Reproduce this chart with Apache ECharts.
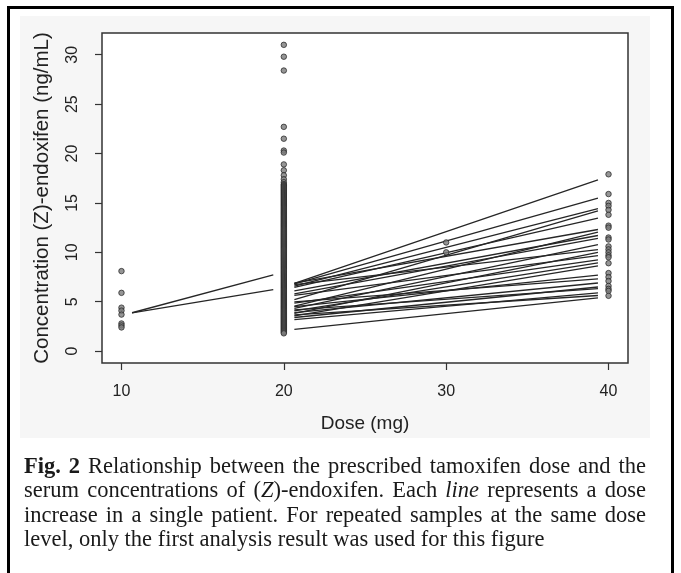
<!DOCTYPE html>
<html><head><meta charset="utf-8">
<script src="https://cdn.jsdelivr.net/npm/echarts@6/dist/echarts.min.js"></script>
<style>html,body{margin:0;padding:0;background:#fff}#c{width:681px;height:573px}</style>
</head><body><div id="c"></div>
<script>
// ---- data ----
const xTicks = [10, 20, 30, 40];
const yTicks = [0, 5, 10, 15, 20, 25, 30];
const xTitle = 'Dose (mg)';
const yTitle = 'Concentration (Z)-endoxifen (ng/mL)';

const dose10 = [8.1, 5.9, 4.4, 4.1, 3.7, 2.8, 2.6, 2.4];
const dose20 = [31.0, 29.8, 28.4, 22.7, 21.5, 20.3, 20.1, 18.9, 18.3, 17.8, 17.4, 17.1,
  16.9, 16.8, 16.7, 16.6, 16.5, 16.4, 16.3, 16.2, 16.1, 16.0, 15.9, 15.8, 15.7, 15.6, 15.5, 15.4,
  15.3, 15.2, 15.1, 15.0, 14.9, 14.8, 14.7, 14.6, 14.5, 14.4, 14.3, 14.2, 14.1, 14.0, 13.9, 13.8,
  13.7, 13.6, 13.5, 13.4, 13.3, 13.2, 13.1, 13.0, 12.9, 12.8, 12.7, 12.6, 12.5, 12.4, 12.3, 12.2,
  12.1, 12.0, 11.9, 11.8, 11.7, 11.6, 11.5, 11.4, 11.3, 11.2, 11.1, 11.0, 10.9, 10.8, 10.7, 10.6,
  10.5, 10.4, 10.3, 10.2, 10.1, 10.0, 9.9, 9.8, 9.7, 9.6, 9.5, 9.4, 9.3, 9.2, 9.1, 9.0, 8.9, 8.8,
  8.7, 8.6, 8.5, 8.4, 8.3, 8.2, 8.1, 8.0, 7.9, 7.8, 7.7, 7.6, 7.5, 7.4, 7.3, 7.2, 7.1, 7.0, 6.9,
  6.8, 6.7, 6.6, 6.5, 6.4, 6.3, 6.2, 6.1, 6.0, 5.9, 5.8, 5.7, 5.6, 5.5, 5.4, 5.3, 5.2, 5.1, 5.0,
  4.9, 4.8, 4.7, 4.6, 4.5, 4.4, 4.3, 4.2, 4.1, 4.0, 3.9, 3.8, 3.7, 3.6, 3.5, 3.4, 3.3, 3.2, 3.1,
  3.0, 2.9, 2.8, 2.7, 2.6, 2.5, 2.4, 2.3, 2.2, 2.1, 2.0, 1.9, 1.8];
const dose30 = [11.0, 10.0];
const dose40 = [17.9, 15.9, 15.0, 14.7, 14.3, 13.8, 12.7, 12.5, 11.5, 11.3, 10.6, 10.3, 10.0,
  9.7, 9.5, 8.9, 7.9, 7.5, 7.1, 6.6, 6.3, 6.1, 5.6];

// each patient's dose increase: start dose/conc -> end dose/conc
const patFromDose = [10, 10, 20, 20, 20, 20, 20, 20, 20, 20, 20, 20, 20, 20, 20, 20, 20, 20, 20, 20, 20, 20, 20, 20, 20, 20];
const patToDose   = [20, 20, 40, 40, 40, 40, 40, 40, 40, 40, 40, 40, 40, 40, 40, 40, 40, 40, 40, 40, 40, 40, 40, 40, 40, 40];
const patFromConc = [3.6, 3.7, 6.5, 6.5, 6.3, 4.9, 6.2, 6.7, 4.3, 5.9, 5.6, 4.1, 6.6, 3.6, 5.5, 4.7, 3.9, 3.4, 4.4, 4.9, 3.8, 3.3, 4.1, 3.1, 3.6, 2.1];
const patToConc   = [8.0, 6.4, 17.7, 15.8, 14.7, 14.5, 13.7, 12.5, 12.3, 11.9, 11.6, 11.0, 10.4, 10.2, 9.8, 9.4, 9.1, 8.8, 7.8, 7.4, 7.0, 6.6, 6.4, 6.0, 5.7, 5.5];

const captionLines = [
  [['Fig. 2', 'b'], ['Relationship between the prescribed tamoxifen dose and the', 'n']],
  [['serum concentrations of (', 'n'], ['Z', 'i'], [')-endoxifen. Each ', 'n'], ['line', 'i'], [' represents a dose', 'n']],
  [['increase in a single patient. For repeated samples at the same dose', 'n']],
  [['level, only the first analysis result was used for this figure', 'n']]
];

// ---- build ----
const chart = echarts.init(document.getElementById('c'), null, {renderer: 'canvas'});
const GAP = 0.65;
const lineSeries = patFromDose.map((d1, i) => {
  const d2 = patToDose[i], c1 = patFromConc[i], c2 = patToConc[i];
  const t0 = GAP / (d2 - d1), t1 = 1 - t0;
  return {
    type: 'line', silent: true, symbol: 'none', animation: false,
    lineStyle: {color: '#262626', width: 1.3},
    data: [[d1 + (d2 - d1) * t0, c1 + (c2 - c1) * t0], [d1 + (d2 - d1) * t1, c1 + (c2 - c1) * t1]]
  };
});
const pts = [];
[[10, dose10], [20, dose20], [30, dose30], [40, dose40]].forEach(([d, arr]) => arr.forEach(v => pts.push([d, v])));

// caption layout (justified)
const SERIF = '"Liberation Serif", "Times New Roman", serif';
const CFS = 22.5;
const cvs = document.createElement('canvas').getContext('2d');
function fontOf(s) { return (s === 'b' ? 'bold ' : s === 'i' ? 'italic ' : '') + CFS + 'px ' + SERIF; }
function measure(t, s) { cvs.font = fontOf(s); return cvs.measureText(t).width; }
const CAP_X0 = 24, CAP_X1 = 646, CAP_Y = [467, 491.5, 516, 540.5];
const capEls = [];
captionLines.forEach((segs, li) => {
  const words = [];
  let cur = null;
  segs.forEach(([txt, st], si) => {
    const parts = txt.split(' ');
    parts.forEach((p, pi) => {
      if (pi > 0 || (si > 0 && li === 0)) { if (cur && cur.length) words.push(cur); cur = []; }
      if (cur === null) cur = [];
      if (p.length) cur.push([p, st]);
    });
  });
  if (cur && cur.length) words.push(cur);
  const widths = words.map(w => w.reduce((a, [t, s]) => a + measure(t, s), 0));
  const total = widths.reduce((a, b) => a + b, 0);
  const last = li === captionLines.length - 1;
  const sp = last ? measure(' ', 'n') : (CAP_X1 - CAP_X0 - total) / (words.length - 1);
  let x = CAP_X0;
  words.forEach((w, wi) => {
    let xx = x;
    w.forEach(([t, s]) => {
      capEls.push({type: 'text', x: xx, y: CAP_Y[li], silent: true,
        style: {text: t, font: fontOf(s), fill: '#1a1a1a', textVerticalAlign: 'middle', textAlign: 'left'}});
      xx += measure(t, s);
    });
    x += widths[wi] + sp;
  });
});

const SANS = '"Liberation Sans", Arial, Helvetica, sans-serif';
chart.setOption({
  animation: false,
  backgroundColor: '#ffffff',
  grid: {left: 102, top: 33, width: 526, height: 330, show: true, backgroundColor: '#ffffff',
    borderColor: '#333', borderWidth: 1.5, containLabel: false},
  xAxis: {
    type: 'value', min: 8.8, max: 41.2,
    name: xTitle, nameLocation: 'middle', nameGap: 51,
    nameTextStyle: {fontFamily: SANS, fontSize: 19, color: '#222'},
    axisLine: {show: false, onZero: false},
    axisTick: {show: true, inside: false, length: 7, customValues: xTicks, lineStyle: {color: '#333', width: 1.2}},
    axisLabel: {customValues: xTicks, margin: 21, fontFamily: SANS, fontSize: 16, color: '#222'},
    splitLine: {show: false}
  },
  yAxis: {
    type: 'value', min: -1.2, max: 32.2,
    name: yTitle, nameLocation: 'middle', nameGap: 49, nameRotate: 90,
    nameTextStyle: {fontFamily: SANS, fontSize: 20.5, color: '#222'},
    axisLine: {show: false, onZero: false},
    axisTick: {show: true, inside: false, length: 7, customValues: yTicks, lineStyle: {color: '#333', width: 1.2}},
    axisLabel: {customValues: yTicks, rotate: 90, margin: 21, fontFamily: SANS, fontSize: 16, color: '#222'},
    splitLine: {show: false}
  },
  graphic: [
    {type: 'rect', z: -10, silent: true, shape: {x: 20, y: 16, width: 630, height: 422},
      style: {fill: '#f6f6f6', stroke: null}},
    {type: 'rect', z: 100, silent: true, shape: {x: 8.5, y: 7.5, width: 664, height: 580},
      style: {fill: null, stroke: '#000', lineWidth: 3}}
  ].concat(capEls),
  series: lineSeries.concat([{
    type: 'scatter', silent: true, symbol: 'circle', symbolSize: 5.5,
    itemStyle: {color: '#7a7a7a', borderColor: '#1e1e1e', borderWidth: 0.9},
    data: pts, z: 3
  }])
});
</script>
</body></html>
